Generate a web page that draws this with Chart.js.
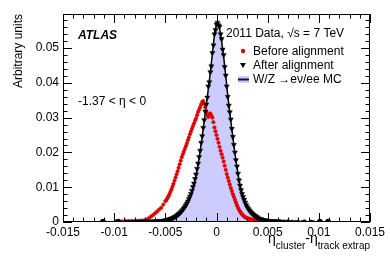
<!DOCTYPE html>
<html>
<head>
<meta charset="utf-8">
<script src="https://cdn.jsdelivr.net/npm/chart.js@4.4.0/dist/chart.umd.min.js"></script>
<style>
  html, body { margin: 0; padding: 0; background: #fff; }
  #wrap { width: 390px; height: 265px; }
</style>
</head>
<body>
<div id="wrap"><canvas id="etaChart" width="390" height="265"></canvas></div>
<script>
// bin centres (eta_cluster - eta_track extrap): fine core, coarser shoulders
const xOuterLeft = [-0.0070, -0.0068, -0.0066, -0.0064, -0.0062, -0.0060, -0.0058, -0.0056, -0.0054, -0.0052];
const xCore = [
  -0.0050, -0.0049, -0.0048, -0.0047, -0.0046, -0.0045, -0.0044, -0.0043, -0.0042, -0.0041,
  -0.0040, -0.0039, -0.0038, -0.0037, -0.0036, -0.0035, -0.0034, -0.0033, -0.0032, -0.0031,
  -0.0030, -0.0029, -0.0028, -0.0027, -0.0026, -0.0025, -0.0024, -0.0023, -0.0022, -0.0021,
  -0.0020, -0.0019, -0.0018, -0.0017, -0.0016, -0.0015, -0.0014, -0.0013, -0.0012, -0.0011,
  -0.0010, -0.0009, -0.0008, -0.0007, -0.0006, -0.0005, -0.0004, -0.0003, -0.0002, -0.0001,
  0.0000, 0.0001, 0.0002, 0.0003, 0.0004, 0.0005, 0.0006, 0.0007, 0.0008, 0.0009,
  0.0010, 0.0011, 0.0012, 0.0013, 0.0014, 0.0015, 0.0016, 0.0017, 0.0018, 0.0019,
  0.0020, 0.0021, 0.0022, 0.0023, 0.0024, 0.0025, 0.0026, 0.0027, 0.0028, 0.0029,
  0.0030, 0.0031, 0.0032, 0.0033, 0.0034, 0.0035, 0.0036, 0.0037, 0.0038, 0.0039,
  0.0040,
];
const xOuterRight = [0.0042, 0.0044, 0.0046, 0.0048, 0.0050];

// after alignment (data)
const afterLeft = [0.0001, 0.0001, 0.0001, 0.0001, 0.0002, 0.0002, 0.0002, 0.0003, 0.0003, 0.0004];
const afterCore = [
  0.0005, 0.0005, 0.0006, 0.0007, 0.0008, 0.0009, 0.0010, 0.0011, 0.0013, 0.0014,
  0.0016, 0.0018, 0.0020, 0.0023, 0.0025, 0.0028, 0.0031, 0.0035, 0.0039, 0.0043,
  0.0048, 0.0053, 0.0059, 0.0066, 0.0073, 0.0081, 0.0090, 0.0101, 0.0111, 0.0124,
  0.0137, 0.0153, 0.0168, 0.0187, 0.0205, 0.0228, 0.0247, 0.0271, 0.0293, 0.0318,
  0.0338, 0.0358, 0.0390, 0.0402, 0.0431, 0.0448, 0.0486, 0.0508, 0.0540, 0.0552,
  0.0568, 0.0573, 0.0566, 0.0562, 0.0540, 0.0526, 0.0496, 0.0480, 0.0446, 0.0421,
  0.0390, 0.0360, 0.0335, 0.0316, 0.0295, 0.0268, 0.0245, 0.0222, 0.0200, 0.0178,
  0.0160, 0.0139, 0.0120, 0.0105, 0.0092, 0.0081, 0.0072, 0.0064, 0.0056, 0.0049,
  0.0043, 0.0038, 0.0034, 0.0030, 0.0027, 0.0024, 0.0021, 0.0019, 0.0017, 0.0015,
  0.0013,
];
const afterRight = [0.0010, 0.0008, 0.0006, 0.0005, 0.0004];

// before alignment (data)
const beforeLeft = [0.0005, 0.0007, 0.0011, 0.0016, 0.0020, 0.0025, 0.0030, 0.0036, 0.0041, 0.0050];
const beforeCore = [
  0.0060, 0.0063, 0.0068, 0.0074, 0.0080, 0.0087, 0.0094, 0.0102, 0.0110, 0.0119,
  0.0128, 0.0137, 0.0146, 0.0156, 0.0166, 0.0176, 0.0186, 0.0194, 0.0202, 0.0210,
  0.0218, 0.0226, 0.0235, 0.0243, 0.0252, 0.0260, 0.0268, 0.0276, 0.0283, 0.0291,
  0.0298, 0.0307, 0.0316, 0.0323, 0.0330, 0.0338, 0.0345, 0.0348, 0.0340, 0.0330,
  0.0318, 0.0308, 0.0302, 0.0310, 0.0312, 0.0306, 0.0300, 0.0287, 0.0272, 0.0261,
  0.0250, 0.0239, 0.0228, 0.0216, 0.0205, 0.0195, 0.0185, 0.0174, 0.0162, 0.0150,
  0.0138, 0.0128, 0.0118, 0.0108, 0.0098, 0.0089, 0.0080, 0.0072, 0.0064, 0.0056,
  0.0048, 0.0041, 0.0035, 0.0030, 0.0026, 0.0022, 0.0019, 0.0016, 0.0014, 0.0012,
  0.0011, 0.0010, 0.0009, 0.0008, 0.0007, 0.0006, 0.0006, 0.0005, 0.0005, 0.0004,
  0.0004,
];
const beforeRight = [0.0004, 0.0003, 0.0003, 0.0002, 0.0002];

// W/Z -> ev/ee MC
const mcLeft = [0.0001, 0.0001, 0.0001, 0.0001, 0.0001, 0.0002, 0.0002, 0.0002, 0.0003, 0.0004];
const mcCore = [
  0.0005, 0.0005, 0.0006, 0.0006, 0.0007, 0.0008, 0.0009, 0.0011, 0.0012, 0.0013,
  0.0015, 0.0017, 0.0019, 0.0021, 0.0024, 0.0027, 0.0030, 0.0033, 0.0037, 0.0041,
  0.0046, 0.0051, 0.0057, 0.0064, 0.0071, 0.0079, 0.0088, 0.0098, 0.0109, 0.0122,
  0.0135, 0.0150, 0.0166, 0.0184, 0.0203, 0.0224, 0.0245, 0.0268, 0.0290, 0.0313,
  0.0336, 0.0359, 0.0382, 0.0406, 0.0430, 0.0457, 0.0485, 0.0512, 0.0538, 0.0556,
  0.0568, 0.0570, 0.0566, 0.0556, 0.0540, 0.0520, 0.0498, 0.0474, 0.0448, 0.0420,
  0.0392, 0.0364, 0.0338, 0.0313, 0.0290, 0.0266, 0.0243, 0.0220, 0.0198, 0.0178,
  0.0158, 0.0140, 0.0122, 0.0107, 0.0094, 0.0083, 0.0073, 0.0065, 0.0057, 0.0050,
  0.0044, 0.0039, 0.0034, 0.0030, 0.0027, 0.0024, 0.0021, 0.0018, 0.0016, 0.0014,
  0.0013,
];
const mcRight = [0.0010, 0.0008, 0.0006, 0.0005, 0.0004];

// sparse tails outside that range
const beforeTailX = [-0.0098, -0.0095, -0.0092, -0.0089, -0.0086, -0.0083, -0.0080, -0.0077, -0.0074, -0.0072,
  0.0054, 0.0058, 0.0062, 0.0066, 0.0070, 0.0074, 0.0080, 0.0086, 0.0092];
const beforeTailY = [0.0002, 0.0002, 0.0002, 0.0003, 0.0003, 0.0003, 0.0003, 0.0004, 0.0004, 0.0004,
  0.0002, 0.0002, 0.0002, 0.0001, 0.0002, 0.0001, 0.0001, 0.0002, 0.0001];
const afterTailX = [-0.0088, -0.0084, -0.0080, -0.0078, -0.0076, -0.0074, -0.0072,
  0.0052, 0.0054, 0.0056, 0.0058, 0.0060, 0.0062, 0.0064, 0.0068, 0.0072, 0.0078, 0.0085, 0.0093];
const afterTailY = [0.00003, 0.00003, 0.00005, 0.00005, 0.00006, 0.00008, 0.0001,
  0.0003, 0.0003, 0.0002, 0.0002, 0.0002, 0.0001, 0.0001, 0.0001, 0.00005, 0.00005, 0.00003, 0.00003];
const afterEndX = [-0.0111, -0.0096, 0.0101, 0.0109];
const afterEndY = [0.00005, 0.00005, 0.00005, 0.00005];

const xTickVals = [-0.015, -0.01, -0.005, 0, 0.005, 0.01, 0.015];
const xTickLabels = ["-0.015", "-0.01", "-0.005", "0", "0.005", "0.01", "0.015"];
const yTickVals = [0, 0.01, 0.02, 0.03, 0.04, 0.05];
const yTickLabels = ["0", "0.01", "0.02", "0.03", "0.04", "0.05"];

const FONT = '"Liberation Sans", Arial, Helvetica, sans-serif';
const RED = "#dd0000";
const MC_FILL = "#ccccff";

const pts = (xs, ys) => xs.map((x, i) => ({ x: x, y: ys[i] }));
const xAll = xOuterLeft.concat(xCore, xOuterRight);

const frameDeco = {
  id: "frameDeco",
  afterDatasetsDraw(chart) {
    const { ctx, chartArea: a, scales } = chart;
    const sx = scales.x;
    const sy = scales.y;
    ctx.save();
    ctx.strokeStyle = "#000";
    ctx.lineWidth = 1;
    ctx.strokeRect(a.left + 0.5, a.top + 0.5, a.right - a.left - 1, a.bottom - a.top - 1);

    ctx.beginPath();
    for (let i = -15; i <= 15; i++) {
      const px = Math.round(sx.getPixelForValue(i * 0.001)) + 0.5;
      const len = i % 5 === 0 ? 9 : 4.5;
      ctx.moveTo(px, a.bottom); ctx.lineTo(px, a.bottom - len);
      ctx.moveTo(px, a.top); ctx.lineTo(px, a.top + len);
    }
    for (let i = 0; i <= 29; i++) {
      const py = Math.round(sy.getPixelForValue(i * 0.002)) + 0.5;
      const len = i % 5 === 0 ? 9 : 4.5;
      ctx.moveTo(a.left, py); ctx.lineTo(a.left + len, py);
      ctx.moveTo(a.right, py); ctx.lineTo(a.right - len, py);
    }
    ctx.stroke();

    ctx.fillStyle = "#000";
    ctx.textBaseline = "alphabetic";
    ctx.textAlign = "left";
    ctx.font = "bold italic 12px " + FONT;
    ctx.fillText("ATLAS", 78, 39);
    ctx.font = "12px " + FONT;
    ctx.fillText("-1.37 < \u03b7 < 0", 78, 105);
    ctx.fillText("2011 Data, \u221as = 7 TeV", 226, 37);

    // legend
    ctx.fillText("Before alignment", 253, 55);
    ctx.fillText("After alignment", 253, 69);
    ctx.fillText("W/Z \u2192e\u03bd/ee MC", 253, 83);
    ctx.fillStyle = RED;
    ctx.beginPath(); ctx.arc(243, 51, 2.2, 0, Math.PI * 2); ctx.fill();
    ctx.fillStyle = "#000";
    ctx.beginPath(); ctx.moveTo(240, 63); ctx.lineTo(246, 63); ctx.lineTo(243, 68); ctx.closePath(); ctx.fill();
    ctx.fillStyle = MC_FILL;
    ctx.fillRect(238, 76, 11, 7);
    ctx.fillStyle = "#111133";
    ctx.fillRect(238, 78.5, 11, 2);

    // axis titles
    ctx.fillStyle = "#000";
    ctx.save();
    ctx.translate(19, a.top);
    ctx.rotate(-Math.PI / 2);
    ctx.textAlign = "right";
    ctx.textBaseline = "middle";
    ctx.font = "12px " + FONT;
    ctx.fillText("Arbitrary units", 0, 0);
    ctx.restore();

    const parts = [
      ["\u03b7", "14px", 243],
      ["cluster", "10px", 249],
      ["-\u03b7", "14px", 243],
      ["track extrap", "10px", 249],
    ];
    let total = 0;
    parts.forEach((p) => { ctx.font = p[1] + " " + FONT; total += ctx.measureText(p[0]).width; });
    let cx = a.right - total;
    parts.forEach((p) => {
      ctx.font = p[1] + " " + FONT;
      ctx.fillText(p[0], cx, p[2]);
      cx += ctx.measureText(p[0]).width;
    });
    ctx.restore();
  },
};

const ctx = document.getElementById("etaChart").getContext("2d");
new Chart(ctx, {
  type: "line",
  data: {
    datasets: [
      {
        label: "After alignment",
        data: pts(xAll, afterLeft.concat(afterCore, afterRight)).concat(pts(afterTailX, afterTailY)),
        showLine: false,
        pointStyle: "triangle",
        rotation: 180,
        pointRadius: 2.9,
        pointBackgroundColor: "#000",
        pointBorderColor: "#000",
        pointBorderWidth: 0.5,
        order: 1,
      },
      {
        label: "After alignment ends",
        data: pts(afterEndX, afterEndY),
        showLine: false,
        pointStyle: "circle",
        pointRadius: 2.6,
        pointBackgroundColor: "#000",
        pointBorderColor: "#000",
        order: 1,
      },
      {
        label: "Before alignment",
        data: pts(xAll, beforeLeft.concat(beforeCore, beforeRight)).concat(pts(beforeTailX, beforeTailY)),
        showLine: false,
        pointStyle: "circle",
        pointRadius: 1.7,
        pointBackgroundColor: RED,
        pointBorderColor: RED,
        pointBorderWidth: 0.6,
        order: 2,
      },
      {
        label: "W/Z MC",
        data: pts(xAll, mcLeft.concat(mcCore, mcRight)),
        fill: "origin",
        backgroundColor: MC_FILL,
        borderColor: "#000",
        borderWidth: 1.5,
        tension: 0,
        pointRadius: 0,
        order: 3,
      },
    ],
  },
  options: {
    responsive: false,
    animation: false,
    devicePixelRatio: 1,
    layout: { padding: { top: 14, right: 20, left: 0, bottom: 0 } },
    plugins: { legend: { display: false }, tooltip: { enabled: false } },
    scales: {
      x: {
        type: "linear",
        min: -0.015,
        max: 0.015,
        grid: { display: false, drawTicks: false },
        border: { display: false },
        afterBuildTicks: (s) => { s.ticks = xTickVals.map((v) => ({ value: v })); },
        afterFit: (s) => { s.height = 43; },
        ticks: {
          padding: 3,
          maxRotation: 0,
          autoSkip: false,
          color: "#000",
          font: { family: FONT, size: 12 },
          callback: (v, i) => xTickLabels[i],
        },
      },
      y: {
        type: "linear",
        min: 0,
        max: 0.0598,
        grid: { display: false, drawTicks: false },
        border: { display: false },
        afterBuildTicks: (s) => { s.ticks = yTickVals.map((v) => ({ value: v })); },
        afterFit: (s) => { s.width = 63; },
        ticks: {
          padding: 4,
          autoSkip: false,
          color: "#000",
          font: { family: FONT, size: 12 },
          callback: (v, i) => yTickLabels[i],
        },
      },
    },
  },
  plugins: [frameDeco],
});
</script>
</body>
</html>
